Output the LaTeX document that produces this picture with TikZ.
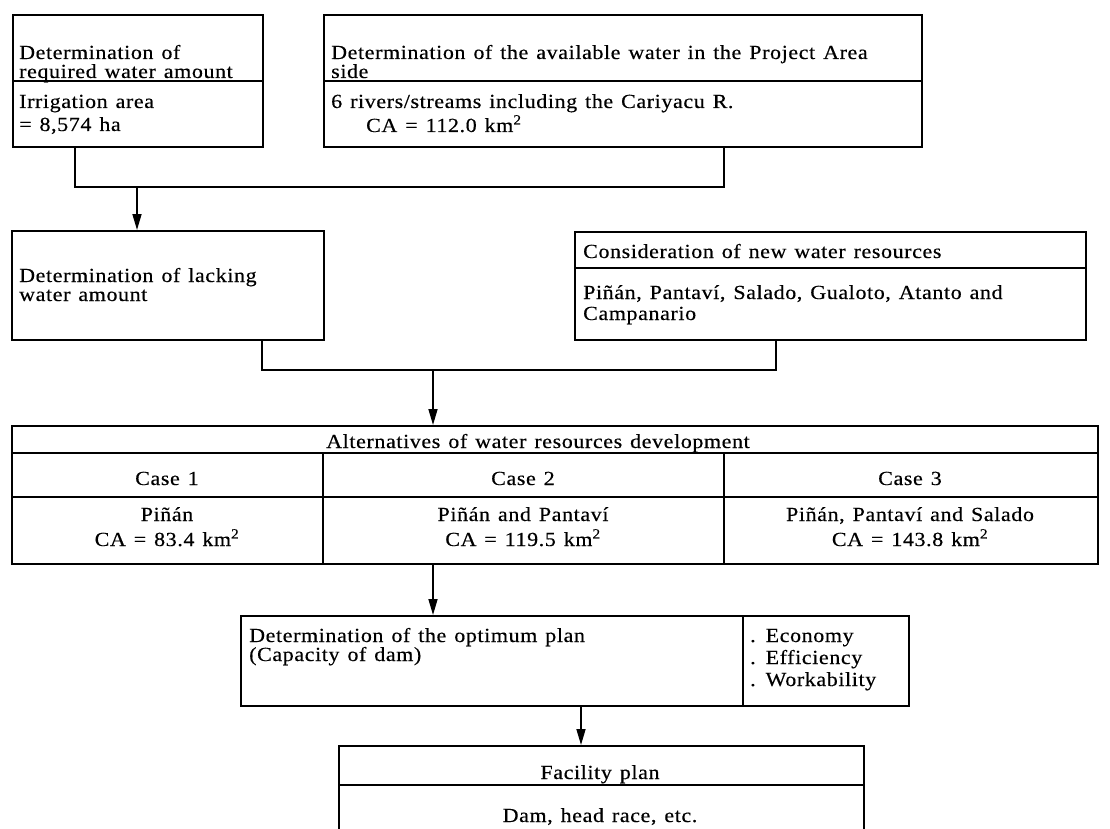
\documentclass[tikz,border=0pt]{standalone}
\usepackage{fontspec}
\setmainfont{Liberation Serif}[WordSpace=1.3, FakeStretch=1.1, LetterSpace=3, FakeBold=0.4]
\usetikzlibrary{calc,arrows.meta}
\begin{document}
\begin{tikzpicture}[x=1pt,y=-1pt,
  box/.style={draw, line width=1.6pt, inner sep=0pt, anchor=north west},
  rule/.style={line width=1.3pt},
  link/.style={line width=1.6pt},
  flow/.style={line width=1.6pt, -{Triangle[length=16pt,width=9pt]}},
  txt/.style={inner sep=0pt, anchor=base west, font=\fontsize{20}{19}\selectfont},
  ctxt/.style={inner sep=0pt, anchor=base, font=\fontsize{20}{19}\selectfont},
]
\useasboundingbox (0,0) rectangle (1110,829);
\clip (0,0) rectangle (1110,829);

% --- top row: required water / available water
\node[box, minimum width=250pt, minimum height=132pt] (req) at (12,14) {};
\draw[rule] (12,81) -- (262,81);
\node[txt] (req1) at (19,59) {Determination of};
\node[txt] (req2) at (19,78) {required water amount};
\node[txt] (req3) at (19,108) {Irrigation area};
\node[txt] (req4) at (19,131) {= 8,574 ha};

\node[box, minimum width=598pt, minimum height=132pt] (avl) at (323,14) {};
\draw[rule] (323,81) -- (921,81);
\node[txt] (avl1) at (331,59) {Determination of the available water in the Project Area};
\node[txt] (avl2) at (331,78) {side};
\node[txt] (avl3) at (331,108) {6 rivers/streams including the Cariyacu R.};
\node[txt] (avl4) at (366,132) {CA = 112.0 km\textsuperscript{2}};

% --- second row: lacking water / new resources
\node[box, minimum width=312pt, minimum height=109pt] (lack) at (11,230) {};
\node[txt] (lack1) at (19,282) {Determination of lacking};
\node[txt] (lack2) at (19,301) {water amount};

\node[box, minimum width=511pt, minimum height=108pt] (new) at (574,231) {};
\draw[rule] (574,268) -- (1085,268);
\node[txt] (new1) at (583,258) {Consideration of new water resources};
\node[txt] (new2) at (583,299) {Piñán, Pantaví, Salado, Gualoto, Atanto and};
\node[txt] (new3) at (583,320) {Campanario};

% --- alternatives table
\node[box, minimum width=1086pt, minimum height=138pt] (alt) at (11,425) {};
\draw[rule] (11,453) -- (1097,453);
\draw[rule] (11,497) -- (1097,497);
\draw[rule] (323,453) -- (323,563);
\draw[rule] (724,453) -- (724,563);
\node[ctxt] (alt0) at (538,448) {Alternatives of water resources development};
\node[ctxt] (c1h) at (167,485) {Case 1};
\node[ctxt] (c2h) at (523,485) {Case 2};
\node[ctxt] (c3h) at (910,485) {Case 3};
\node[ctxt] (c1a) at (167,521) {Piñán};
\node[ctxt] (c1b) at (167,546) {CA = 83.4 km\textsuperscript{2}};
\node[ctxt] (c2a) at (523,521) {Piñán and Pantaví};
\node[ctxt] (c2b) at (523,546) {CA = 119.5 km\textsuperscript{2}};
\node[ctxt] (c3a) at (910,521) {Piñán, Pantaví and Salado};
\node[ctxt] (c3b) at (910,546) {CA = 143.8 km\textsuperscript{2}};

% --- optimum plan with criteria
\node[box, minimum width=502pt, minimum height=90pt] (opt) at (240,615) {};
\node[box, minimum width=166pt, minimum height=90pt] (crit) at (742,615) {};
\node[txt] (opt1) at (249,642) {Determination of the optimum plan};
\node[txt] (opt2) at (249,661) {(Capacity of dam)};
\node[txt] (cr1) at (750,642) {. Economy};
\node[txt] (cr2) at (750,664) {. Efficiency};
\node[txt] (cr3) at (750,686) {. Workability};

% --- facility plan (runs off the lower edge)
\node[box, minimum width=525pt, minimum height=100pt] (fac) at (338,745) {};
\draw[rule] (338,785) -- (863,785);
\node[ctxt] (fac1) at (600,779) {Facility plan};
\node[ctxt] (fac2) at (600,822) {Dam, head race, etc.};

% --- connectors
\coordinate (j1) at (137,187);
\draw[link] (req.south west -| 75,0) |- (j1) -| (avl.south west -| 724,0);
\draw[flow] (j1) -- (lack.north west -| 137,0);
\coordinate (j2) at (433,370);
\draw[link] (lack.south west -| 262,0) |- (j2) -| (new.south west -| 776,0);
\draw[flow] (j2) -- (alt.north west -| 433,0);
\draw[flow] (alt.south west -| 433,0) -- (opt.north west -| 433,0);
\draw[flow] (opt.south west -| 581,0) -- (fac.north west -| 581,0);
\end{tikzpicture}
\end{document}
